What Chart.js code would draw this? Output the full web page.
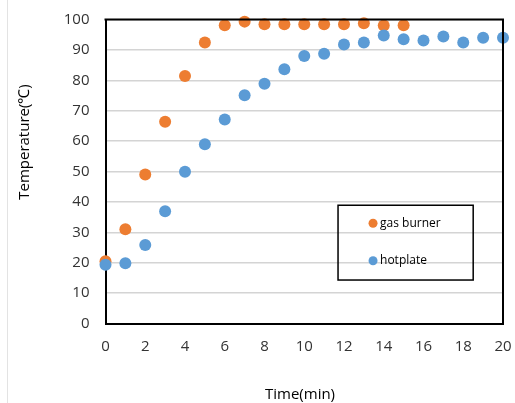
<!DOCTYPE html>
<html>
<head>
<meta charset="utf-8">
<script src="https://cdn.jsdelivr.net/npm/chart.js@4/dist/chart.umd.min.js"></script>
<style>
  html, body { margin: 0; padding: 0; background: #fff; }
  #wrap { width: 515px; height: 403px; }
</style>
</head>
<body>
<div id="wrap"><canvas id="chart" width="515" height="403"></canvas></div>
<script>
// time in minutes
const minutes = [0, 1, 2, 3, 4, 5, 6, 7, 8, 9, 10, 11, 12, 13, 14, 15, 16, 17, 18, 19, 20];
// temperature readings, degrees C
const gasBurner = [20.5, 31, 49, 66.4, 81.4, 92.4, 98.1, 99.3, 98.4, 98.4, 98.4, 98.4, 98.4, 98.8, 98, 98.1];
const hotplate = [19.3, 19.8, 25.8, 36.9, 49.9, 59, 67.1, 75.1, 78.9, 83.6, 88, 88.7, 91.8, 92.4, 94.7, 93.5, 93.1, 94.4, 92.4, 94, 94];
const seriesNames = ["gas burner", "hotplate"];
const xTitle = "Time(min)";
const yTitle = "Temperature(\u2103)";

const orange = "#ED7D31";
const blue = "#5B9BD5";
const tickFont = { family: "Open Sans", size: 15 };

function toPoints(values) {
  return values.map((v, i) => ({ x: minutes[i], y: v }));
}

// frame, axis titles and the boxed legend inside the plot
const extras = {
  id: "extras",
  afterDraw(chart) {
    const ctx = chart.ctx;
    const a = chart.chartArea;
    ctx.save();

    // faint outer chart border on the left
    ctx.strokeStyle = "#e3e3e3";
    ctx.lineWidth = 1;
    ctx.beginPath();
    ctx.moveTo(7.5, 0);
    ctx.lineTo(7.5, 403);
    ctx.stroke();

    // top and right sides of the plot box
    ctx.strokeStyle = "#000";
    ctx.lineWidth = 2;
    ctx.beginPath();
    ctx.moveTo(a.left - 1, a.top);
    ctx.lineTo(a.right, a.top);
    ctx.lineTo(a.right, a.bottom + 1);
    ctx.stroke();

    // axis titles
    ctx.fillStyle = "#000";
    ctx.font = "15px 'Open Sans'";
    ctx.textAlign = "center";
    ctx.textBaseline = "middle";
    ctx.fillText(xTitle, 300, 395);
    ctx.save();
    ctx.translate(25, 142);
    ctx.rotate(-Math.PI / 2);
    ctx.fillText(yTitle, 0, 0);
    ctx.restore();

    // legend box
    const x = chart.scales.x, y = chart.scales.y;
    const bx = x.getPixelForValue(11.7), by = y.getPixelForValue(38.9);
    const bw = x.getPixelForValue(18.5) - bx, bh = y.getPixelForValue(14.3) - by;
    ctx.lineWidth = 1.5;
    ctx.strokeRect(bx, by, bw, bh);
    ctx.font = "12px 'Open Sans'";
    ctx.textAlign = "left";
    chart.data.datasets.forEach((ds, i) => {
      const cy = by + 18 + i * 37.5;
      const cx = bx + 35;
      ctx.fillStyle = ds.backgroundColor;
      ctx.beginPath();
      ctx.arc(cx, cy, 4.5, 0, Math.PI * 2);
      ctx.fill();
      ctx.fillStyle = "#000";
      ctx.fillText(ds.label, cx + 7, cy);
    });

    ctx.restore();
  }
};

new Chart(document.getElementById("chart"), {
  type: "scatter",
  data: {
    datasets: [
      {
        label: seriesNames[0],
        data: toPoints(gasBurner),
        backgroundColor: orange,
        borderColor: orange,
        pointRadius: 6,
        pointBorderWidth: 0,
        clip: false,
        order: 1
      },
      {
        label: seriesNames[1],
        data: toPoints(hotplate),
        backgroundColor: blue,
        borderColor: blue,
        pointRadius: 6,
        pointBorderWidth: 0,
        clip: false,
        order: 0
      }
    ]
  },
  options: {
    responsive: false,
    animation: false,
    layout: { padding: { left: 0, top: 19.5, right: 12, bottom: 0 } },
    plugins: {
      legend: { display: false },
      tooltip: { enabled: false }
    },
    scales: {
      x: {
        type: "linear",
        min: 0,
        max: 20,
        ticks: { stepSize: 2, color: "#333", font: tickFont, padding: 14 },
        grid: { display: false, drawTicks: false },
        border: { color: "#000", width: 2 },
        afterFit(scale) {
          scale.height = 79.5;
          scale.paddingLeft = 0;
          scale.paddingRight = 0;
        }
      },
      y: {
        min: 0,
        max: 100,
        ticks: { stepSize: 10, color: "#333", font: tickFont, padding: 16 },
        grid: { color: "#d4d4d4", lineWidth: 1.5, drawTicks: false },
        border: { color: "#000", width: 2 },
        afterFit(scale) {
          scale.width = 105.5;
          scale.paddingTop = 0;
          scale.paddingBottom = 0;
        }
      }
    }
  },
  plugins: [extras]
});
</script>
</body>
</html>
